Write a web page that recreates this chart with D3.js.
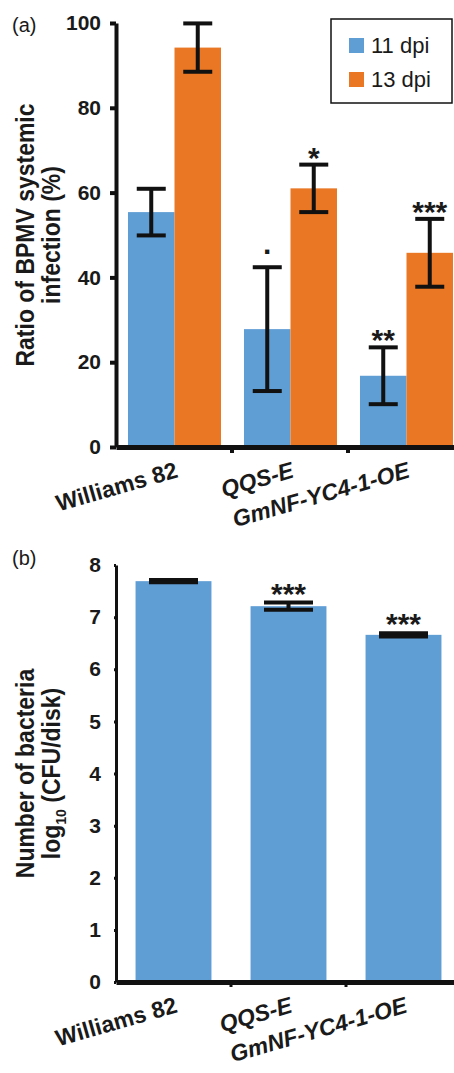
<!DOCTYPE html>
<html>
<head>
<meta charset="utf-8">
<script src="https://cdn.jsdelivr.net/npm/d3@7"></script>
<style>
  body { margin: 0; background: #fff; }
  svg text { font-family: "Liberation Sans", Arial, Helvetica, sans-serif; fill: #1a1a1a; }
</style>
</head>
<body>
<div id="chart"></div>
<script>
// genotypes on the x axis (both panels)
const categories = ["Williams 82", "QQS-E", "GmNF-YC4-1-OE"]

// panel (a): ratio of BPMV systemic infection (%)
const series = ["11 dpi", "13 dpi"]
const ratio11 = [55.4, 27.8, 16.8]
const err11 = [5.5, 14.6, 6.7]
const sig11 = ["", ".", "**"]
const ratio13 = [94.2, 61.0, 45.8]
const err13 = [5.7, 5.6, 8.0]
const sig13 = ["", "*", "***"]
const ticksA = [0, 20, 40, 60, 80, 100]

// panel (b): number of bacteria, log10 (CFU/disk)
const bacteria = [7.69, 7.21, 6.66]
const bacteriaErr = [0.02, 0.07, 0.03]
const bacteriaSig = ["", "***", "***"]
const ticksB = [0, 1, 2, 3, 4, 5, 6, 7, 8]

const width = 454
const height = 1073
const colors = {"11 dpi": "#5f9dd5", "13 dpi": "#ea7724"}
const ink = "#111"
const stretch = 1.1 //the figure text is a little wider than plain arial

const svg = d3.select("#chart").append("svg")
  .attr("width", width)
  .attr("height", height)

//rotated two line axis title, cy = vertical centre
function yTitle(lines, cy) {
  const t = svg.append("text")
    .attr("transform", "translate(34," + cy + ") scale(" + stretch + ",1) rotate(-90)")
    .attr("text-anchor", "middle")
    .style("font-size", "23px")
    .style("font-weight", "bold")
  t.append("tspan").attr("x", 0).attr("y", 0).text(lines[0])
  const second = t.append("tspan").attr("x", 0).attr("y", 24)
  if (lines[1] === "log10 (CFU/disk)") {
    second.append("tspan").text("log")
    second.append("tspan").attr("dy", 5).style("font-size", "14px").text("10")
    second.append("tspan").attr("dy", -5).text(" (CFU/disk)")
  } else {
    second.text(lines[1])
  }
}

function xLabels(xCenter, axisY) {
  categories.forEach(c => {
    const lx = xCenter(c) + 5
    const ly = axisY + 30
    svg.append("text")
      .attr("x", lx)
      .attr("y", ly)
      .attr("transform", "rotate(-16 " + lx + " " + ly + ")")
      .attr("text-anchor", "end")
      .style("font-size", "23px")
      .style("font-weight", "bold")
      .style("font-style", c === "Williams 82" ? "normal" : "italic")
      .text(c)
  })
}

function styleYAxis(g, domainWidth) {
  g.select(".domain").attr("stroke", ink).attr("stroke-width", domainWidth)
  g.selectAll(".tick line").attr("stroke", ink).attr("stroke-width", 4)
  g.selectAll(".tick text")
    .attr("fill", "#1a1a1a")
    .style("font-family", '"Liberation Sans", Arial, sans-serif')
    .style("font-size", "21px")
    .style("font-weight", "bold")
}

function errorBar(cx, yTop, yBottom, capHalf) {
  const g = svg.append("g").attr("stroke", ink).attr("stroke-width", 4)
  g.append("line").attr("x1", cx).attr("x2", cx).attr("y1", yTop).attr("y2", yBottom)
  g.append("line").attr("x1", cx - capHalf).attr("x2", cx + capHalf).attr("y1", yTop).attr("y2", yTop)
  g.append("line").attr("x1", cx - capHalf).attr("x2", cx + capHalf).attr("y1", yBottom).attr("y2", yBottom)
}

function sigText(cx, y, label) {
  if (!label) return
  svg.append("text").attr("x", cx).attr("y", y)
    .attr("text-anchor", "middle")
    .style("font-size", "30px").style("font-weight", "bold")
    .text(label)
}

// ---------------- panel (a) ----------------
const yA = d3.scaleLinear().domain([0, 100]).range([447, 23])
const x0 = d3.scaleBand().domain(categories).range([116, 464]).padding(0)
const x1 = d3.scaleBand().domain(series).range([12, 105]).padding(0)

svg.append("text").attr("x", 12).attr("y", 32).style("font-size", "20px").text("(a)")

const valuesA = {"11 dpi": ratio11, "13 dpi": ratio13}
const errA = {"11 dpi": err11, "13 dpi": err13}
const sigA = {"11 dpi": sig11, "13 dpi": sig13}

series.forEach(s => {
  svg.append("g").selectAll("rect")
    .data(categories)
    .join("rect")
    .attr("x", c => x0(c) + x1(s))
    .attr("width", x1.bandwidth())
    .attr("y", (c, i) => yA(valuesA[s][i]))
    .attr("height", (c, i) => yA(0) - yA(valuesA[s][i]))
    .attr("fill", colors[s])
})

series.forEach(s => {
  categories.forEach((c, i) => {
    const cx = x0(c) + x1(s) + x1.bandwidth() / 2
    const v = valuesA[s][i], e = errA[s][i]
    errorBar(cx, yA(v + e), yA(v - e), 14.5)
    //the single dot sits higher above its cap than the stars
    sigText(cx, yA(v + e) + (sigA[s][i] === "." ? -13 : 3), sigA[s][i])
  })
})

const yAxisA = svg.append("g")
  .attr("transform", "translate(116,0)")
  .call(d3.axisLeft(yA).tickValues(ticksA).tickSize(6).tickSizeOuter(0).tickPadding(9))
styleYAxis(yAxisA, 4)

const xAxisA = svg.append("g")
  .attr("transform", "translate(0," + yA(0) + ")")
  .call(d3.axisBottom(x0).tickSize(0).tickFormat(""))
xAxisA.select(".domain").attr("stroke", ink).attr("stroke-width", 5)
categories.slice(1).forEach(c => {
  xAxisA.append("line").attr("x1", x0(c)).attr("x2", x0(c)).attr("y1", 0).attr("y2", 6)
    .attr("stroke", ink).attr("stroke-width", 4)
})
xLabels(c => x0(c) + x0.bandwidth() / 2, yA(0))

yTitle(["Ratio of BPMV systemic", "infection (%)"], (yA(0) + yA(100)) / 2)

//legend
const legend = svg.append("g")
legend.append("rect").attr("x", 331).attr("y", 19).attr("width", 121).attr("height", 84)
  .attr("fill", "#fff").attr("stroke", ink).attr("stroke-width", 1.5)
series.forEach((s, i) => {
  legend.append("rect").attr("x", 349).attr("y", 38 + i * 34).attr("width", 15).attr("height", 15)
    .attr("fill", colors[s])
  legend.append("text").attr("x", 371).attr("y", 53 + i * 34)
    .style("font-size", "22px").text(s)
})

// ---------------- panel (b) ----------------
const yB = d3.scaleLinear().domain([0, 8]).range([982, 565])
const xB = d3.scaleBand().domain(categories).range([116, 461]).paddingInner(0.34).paddingOuter(0.17)

svg.append("text").attr("x", 12).attr("y", 565).style("font-size", "20px").text("(b)")

svg.append("g").selectAll("rect")
  .data(categories)
  .join("rect")
  .attr("x", c => xB(c))
  .attr("width", xB.bandwidth())
  .attr("y", (c, i) => yB(bacteria[i]))
  .attr("height", (c, i) => yB(0) - yB(bacteria[i]))
  .attr("fill", colors["11 dpi"])

categories.forEach((c, i) => {
  const cx = xB(c) + xB.bandwidth() / 2
  const v = bacteria[i], e = bacteriaErr[i]
  errorBar(cx, yB(v + e), yB(v - e), 24.5)
  sigText(cx, yB(v + e) + 1, bacteriaSig[i])
})

const yAxisB = svg.append("g")
  .attr("transform", "translate(116,0)")
  .call(d3.axisLeft(yB).tickValues(ticksB).tickSize(2).tickSizeOuter(0).tickPadding(13))
styleYAxis(yAxisB, 3)
yAxisB.selectAll(".tick line").attr("stroke-width", 3)

const xAxisB = svg.append("g")
  .attr("transform", "translate(0," + yB(0) + ")")
  .call(d3.axisBottom(xB).tickSize(0).tickFormat(""))
xAxisB.select(".domain").attr("stroke", ink).attr("stroke-width", 5)
categories.slice(1).forEach((c, i) => {
  const bx = xB.range()[0] + (i + 1) * xB.step()
  xAxisB.append("line").attr("x1", bx).attr("x2", bx).attr("y1", 0).attr("y2", 5)
    .attr("stroke", ink).attr("stroke-width", 3)
})
xLabels(c => xB(c) + xB.bandwidth() / 2, yB(0))

yTitle(["Number of bacteria", "log10 (CFU/disk)"], (yB(0) + yB(8)) / 2)
</script>
</body>
</html>
